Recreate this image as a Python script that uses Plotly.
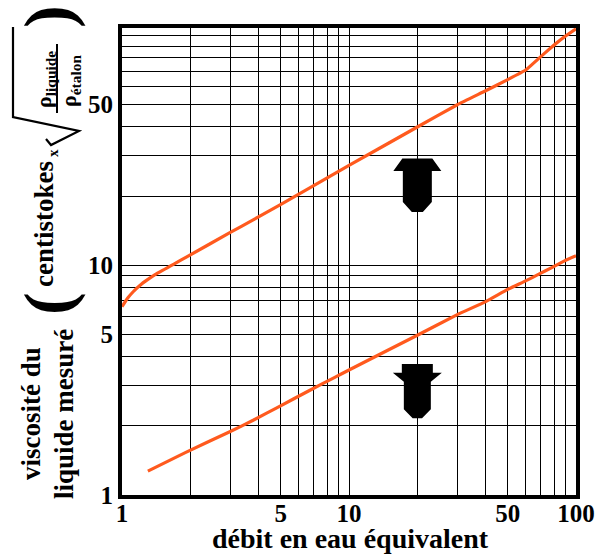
import math
import plotly.graph_objects as go

# ---------------- data ----------------
x_upper = [1.0, 1.06, 1.12, 1.22, 1.32, 1.44, 1.7, 1.92, 3.0, 3.8, 4.9, 5.7, 10, 20, 30, 40, 50, 60, 68, 78, 88, 100]
y_upper = [6.6, 7.2, 7.67, 8.29, 8.77, 9.26, 10.15, 10.85, 13.9, 15.8, 18.2, 19.8, 27.2, 40, 50.0, 57.5, 64.3, 70.8, 79, 89, 98, 107]

x_lower = [1.3, 1.9, 3.0, 3.8, 4.9, 6.6, 8.7, 10, 20, 30, 40, 50, 60, 68.6, 78.6, 89, 100]
y_lower = [1.27, 1.53, 1.89, 2.12, 2.42, 2.83, 3.26, 3.5, 4.96, 6.1, 6.95, 7.85, 8.55, 9.15, 9.8, 10.45, 11.0]

grid_vals = [1, 2, 3, 4, 5, 6, 7, 8, 9, 10, 20, 30, 40, 50, 60, 70, 80, 90, 100]
x_labels = {1: "1", 5: "5", 10: "10", 50: "50", 100: "100"}
y_labels = {1: "1", 5: "5", 10: "10", 50: "50"}

x_title = "débit en eau équivalent"
y_title_1 = "viscosité du"
y_title_2 = "liquide mesuré"

# ---------------- layout geometry ----------------
W, H = 600, 556
L, R, T, B = 122, 576, 28, 495
Y_TOP = 2.033

def xp(px):
    return (px - L) / (R - L)

def yp(py):
    return (B - py) / (B - T)

def path_from(points):
    s = "M " + " L ".join(f"{xp(a):.5f},{yp(b):.5f}" for a, b in points)
    return s + " Z"

def line_path(points):
    return "M " + " L ".join(f"{xp(a):.5f},{yp(b):.5f}" for a, b in points)

ORANGE = "#FF5A1E"
FONT = "Liberation Serif"

fig = go.Figure()
fig.add_trace(go.Scatter(x=x_upper, y=y_upper, mode="lines",
                         line=dict(color=ORANGE, width=3.2, shape="spline", smoothing=0.35),
                         hoverinfo="skip"))
fig.add_trace(go.Scatter(x=x_lower, y=y_lower, mode="lines",
                         line=dict(color=ORANGE, width=3.2, shape="spline", smoothing=0.35),
                         hoverinfo="skip"))

axis_common = dict(
    type="log", showgrid=True, gridcolor="black", gridwidth=1.2,
    showline=True, linewidth=4, linecolor="black", mirror=True,
    ticks="", zeroline=False, tickvals=grid_vals,
    tickfont=dict(family=FONT, size=25, color="black", weight="bold"),
)
fig.update_xaxes(range=[0, 2], ticktext=[x_labels.get(v, "") for v in grid_vals],
                 ticklabelstandoff=-7, **axis_common)
fig.update_yaxes(range=[0, Y_TOP], ticktext=[y_labels.get(v, "") for v in grid_vals], **axis_common)

# decorative arrows centred on the x = 20 grid line
cx = L + math.log10(20) / 2 * (R - L)
up_arrow = [(-15, 158.5), (15, 158.5), (24, 171), (14.5, 171), (14.5, 202), (5.5, 212),
            (-5.5, 212), (-14.5, 202), (-14.5, 171), (-24, 171)]
down_arrow = [(-15.5, 364), (15.5, 364), (15.5, 372.7), (24.5, 372.7), (13.5, 381.7), (13.5, 409.3),
              (4.7, 418.3), (-4.7, 418.3), (-13.5, 409.3), (-13.5, 381.7), (-24.5, 372.7), (-15.5, 372.7)]
shapes = []
for arr in (up_arrow, down_arrow):
    shapes.append(dict(type="path", xref="paper", yref="paper",
                       path=path_from([(cx + dx, py) for dx, py in arr]),
                       fillcolor="black", line=dict(color="black", width=0)))
# radical sign and fraction bar of the y title
shapes.append(dict(type="path", xref="paper", yref="paper",
                   path=line_path([(46, 139), (51, 145), (79, 131), (13, 117), (13, 27)]),
                   line=dict(color="black", width=2.2)))
shapes.append(dict(type="line", xref="paper", yref="paper",
                   x0=xp(57), x1=xp(57), y0=yp(44), y1=yp(113),
                   line=dict(color="black", width=2)))

def ann(text, px, py, size, angle=-90, bold=True):
    return dict(text=text, x=xp(px), y=yp(py), xref="paper", yref="paper",
                showarrow=False, xanchor="center", yanchor="middle", textangle=angle,
                font=dict(family=FONT, size=size, color="black", weight="bold" if bold else "normal"))

annotations = [
    ann(x_title, 350, 538, 28, angle=0),
    ann(y_title_1, 31, 414, 27),
    ann(y_title_2, 64, 414, 27),
    ann("(", 48, 304, 68),
    ann("centistokes", 44, 224, 27),
    ann("x", 53, 153, 15),
    ann("ρ<sub>liquide</sub>", 45, 80, 22),
    ann("ρ<sub>étalon</sub>", 70, 81, 22),
    ann(")", 48, 17, 68),
]

fig.update_layout(
    width=W, height=H,
    margin=dict(l=L, r=W - R, t=T, b=H - B, autoexpand=False),
    paper_bgcolor="white", plot_bgcolor="white",
    showlegend=False, shapes=shapes, annotations=annotations,
)

fig.write_html("out.html", config={"displayModeBar": False},
               post_script="document.body.style.margin='0';")
